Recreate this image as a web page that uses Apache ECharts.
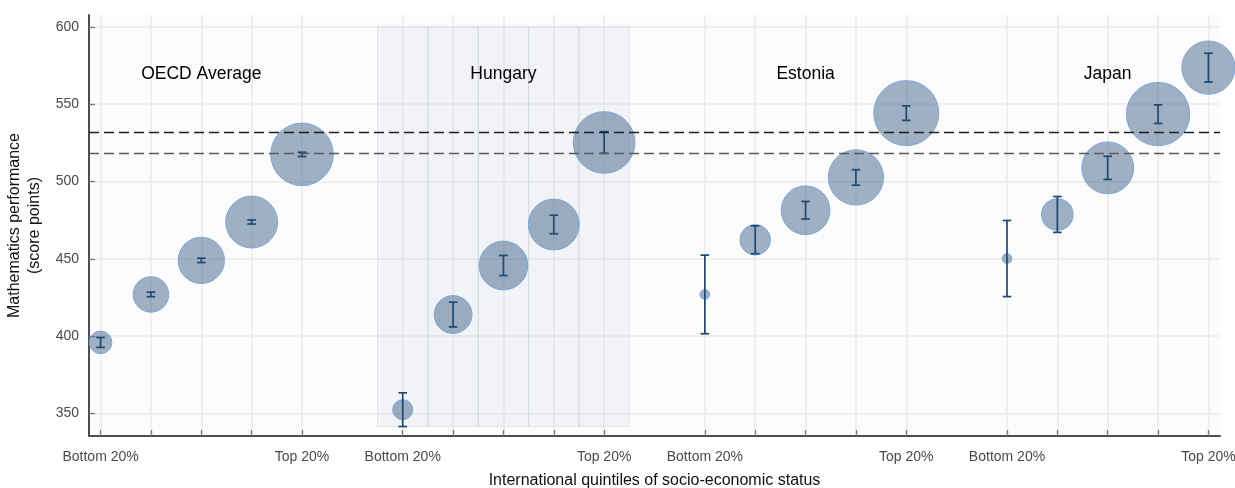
<!DOCTYPE html>
<html>
<head>
<meta charset="utf-8">
<title>Mathematics performance by socio-economic status</title>
<script src="https://cdn.jsdelivr.net/npm/echarts@6.0.0/dist/echarts.min.js"></script>
<style>
  html, body { margin: 0; padding: 0; background: #ffffff; }
  #chart { width: 1235px; height: 488px; }
</style>
</head>
<body>
<div id="chart"></div>
<script>
// Groups shown along the x axis (five quintiles each, one empty slot between groups)
const groupNames = ['OECD Average', 'Hungary', 'Estonia', 'Japan'];
const groupStart = [0, 6, 12, 18];
const quintileLabels = ['Bottom 20%', '', '', '', 'Top 20%'];

// Mean mathematics score per quintile (bottom to top)
const oecdScore    = [396.0, 427.0, 449.0, 473.8, 517.5];
const hungaryScore = [352.5, 414.0, 445.7, 472.2, 525.2];
const estoniaScore = [427.0, 462.3, 481.4, 502.6, 544.2];
const japanScore   = [450.2, 478.7, 508.8, 543.5, 573.6];

// Half-width of the confidence interval (score points)
const oecdError    = [3.2, 1.5, 1.4, 1.3, 1.4];
const hungaryError = [10.9, 8.0, 6.5, 6.0, 7.0];
const estoniaError = [25.4, 9.0, 5.7, 5.0, 4.7];
const japanError   = [24.6, 11.6, 7.5, 6.0, 9.3];

// Share of students in each quintile (%), shown as bubble area
const oecdShare    = [4.8, 11.9, 20.2, 25.4, 36.9];
const hungaryShare = [3.8, 13.5, 22.4, 24.4, 35.9];
const estoniaShare = [0.9, 8.8, 22.4, 28.7, 39.9];
const japanShare   = [0.9, 9.4, 25.4, 37.6, 26.7];

// Reference lines (score points)
const referenceLines = [532.0, 518.5];
// Height at which the group titles sit
const groupTitleScore = 569.5;
// Upper edge of the highlighted country band
const bandTop = 600;
const highlightedGroup = 1;

const yTicks = [350, 400, 450, 500, 550, 600];

const scores = [oecdScore, hungaryScore, estoniaScore, japanScore];
const errors = [oecdError, hungaryError, estoniaError, japanError];
const shares = [oecdShare, hungaryShare, estoniaShare, japanShare];

const bubbleData = [];
const errorData = [];
const tickPositions = [];
const labelText = {};
groupNames.forEach((g, gi) => {
  scores[gi].forEach((s, q) => {
    const x = groupStart[gi] + q;
    tickPositions.push(x);
    if (quintileLabels[q]) labelText[x] = quintileLabels[q];
    bubbleData.push([x, s, shares[gi][q]]);
    errorData.push([x, s - errors[gi][q], s + errors[gi][q]]);
  });
});

const titleData = groupNames.map((g, gi) => ({
  name: g,
  value: [groupStart[gi] + 2, groupTitleScore]
}));

// Highlight band: one cell per quintile of the highlighted group
const hg = highlightedGroup;
const bandBottom = Math.min(...scores[hg].map((s, q) => s - errors[hg][q]));
const bandCells = scores[hg].map((s, q) => [
  { xAxis: groupStart[hg] + q - 0.5, yAxis: bandBottom },
  { xAxis: groupStart[hg] + q + 0.5, yAxis: bandTop }
]);

const FONT = "'Liberation Sans', Arial, sans-serif";
const chart = echarts.init(document.getElementById('chart'), null, { renderer: 'canvas' });

chart.setOption({
  animation: false,
  backgroundColor: '#ffffff',
  grid: {
    left: 89, right: 15, top: 15, bottom: 52,
    outerBoundsMode: 'none',
    containLabel: false,
    show: true, backgroundColor: '#fcfcfc', borderWidth: 0
  },
  xAxis: {
    type: 'value',
    min: -0.23, max: 22.23,
    name: 'International quintiles of socio-economic status',
    nameLocation: 'middle',
    nameGap: 37,
    nameTextStyle: { fontFamily: FONT, fontSize: 16, color: '#111' },
    axisLine: { show: true, onZero: false, lineStyle: { color: '#4d4d4d', width: 2 } },
    axisTick: { show: true, inside: true, length: 6, customValues: tickPositions,
                lineStyle: { color: '#7a7a7a', width: 1.3 } },
    axisLabel: {
      customValues: Object.keys(labelText).map(Number),
      formatter: v => labelText[v] || '',
      fontFamily: FONT, fontSize: 14, color: '#4a4a4a', margin: 14
    },
    splitLine: { show: true, lineStyle: { color: '#efefef', width: 2 } }
  },
  yAxis: {
    type: 'value',
    min: 335.5, max: 607.6,
    name: 'Mathematics performance\n(score points)',
    nameLocation: 'middle',
    nameGap: 32,
    nameTextStyle: { fontFamily: FONT, fontSize: 16, color: '#111', lineHeight: 20 },
    axisLine: { show: true, onZero: false, lineStyle: { color: '#4d4d4d', width: 2 } },
    axisTick: { show: true, inside: true, length: 6, customValues: yTicks,
                lineStyle: { color: '#7a7a7a', width: 1.3 } },
    axisLabel: { customValues: yTicks, fontFamily: FONT, fontSize: 14, color: '#4a4a4a', margin: 10 },
    splitLine: { show: true, lineStyle: { color: '#efefef', width: 2 } }
  },
  series: [
    {
      // highlighted country band and dashed reference lines
      type: 'scatter',
      z: 1,
      silent: true,
      data: [],
      markArea: {
        silent: true,
        itemStyle: { color: 'rgba(180,192,210,0.14)', borderColor: 'rgba(205,211,220,0.5)', borderWidth: 1 },
        data: bandCells
      },
      markLine: {
        silent: true,
        symbol: 'none',
        label: { show: false },
        data: referenceLines.map((v, i) => ({
          yAxis: v,
          lineStyle: { color: i === 0 ? '#1f1f1f' : '#5a5a5a', type: [10, 5], width: 1.4 }
        }))
      }
    },
    {
      type: 'scatter',
      z: 3,
      data: bubbleData,
      symbolSize: v => 10.3 * Math.sqrt(v[2]),
      itemStyle: { color: 'rgba(72,106,140,0.52)', borderColor: '#7aa7dd', borderWidth: 1, opacity: 1 }
    },
    {
      type: 'custom',
      z: 4,
      data: errorData,
      encode: { x: 0, y: [1, 2] },
      renderItem: (params, api) => {
        const x = api.value(0);
        const lo = api.coord([x, api.value(1)]);
        const hi = api.coord([x, api.value(2)]);
        const w = 4.3;
        const style = { stroke: '#1d4a73', lineWidth: 1.7 };
        return {
          type: 'group',
          children: [
            { type: 'line', shape: { x1: lo[0], y1: lo[1], x2: hi[0], y2: hi[1] }, style },
            { type: 'line', shape: { x1: lo[0] - w, y1: lo[1], x2: lo[0] + w, y2: lo[1] }, style },
            { type: 'line', shape: { x1: hi[0] - w, y1: hi[1], x2: hi[0] + w, y2: hi[1] }, style }
          ]
        };
      }
    },
    {
      type: 'scatter',
      z: 5,
      silent: true,
      symbolSize: 0,
      itemStyle: { opacity: 1 },
      data: titleData,
      label: {
        show: true,
        position: 'inside',
        formatter: p => p.name,
        fontFamily: FONT, fontSize: 17.5, color: '#000', opacity: 1
      }
    }
  ]
});
</script>
</body>
</html>
